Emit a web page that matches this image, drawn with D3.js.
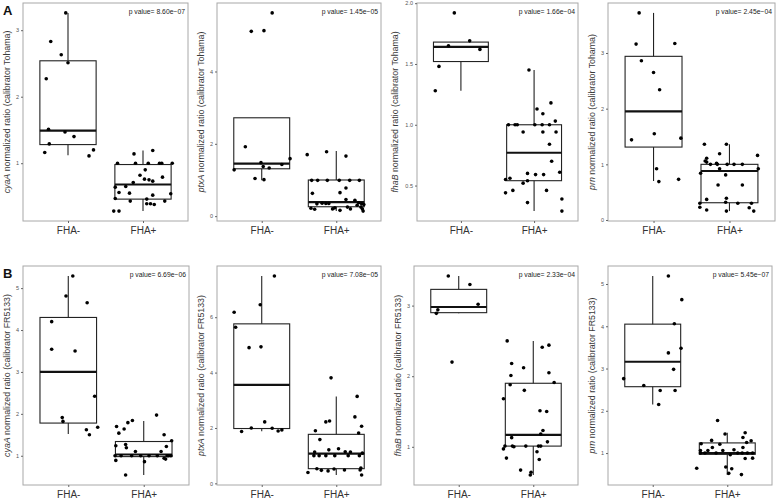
<!DOCTYPE html>
<html>
<head>
<meta charset="utf-8">
<script src="https://cdn.jsdelivr.net/npm/d3@7"></script>
<style>
  body { margin: 0; background: #fff; }
  svg { font-family: "Liberation Sans", Arial, sans-serif; }
</style>
</head>
<body>
<svg id="chart" width="778" height="501"></svg>
<script>
// groups on the x axis
var groups = ["FHA-", "FHA+"];
var genes = ["cyaA", "ptxA", "fhaB", "prn"];
var calibrators = ["Tohama", "FR5133"];
var rowLabels = ["A", "B"];

// p values, row A (Tohama) and row B (FR5133)
var pTohama = ["8.60e\u221207", "1.45e\u221205", "1.66e\u221204", "2.45e\u221204"];
var pFR5133 = ["6.69e\u221206", "7.08e\u221205", "2.33e\u221204", "5.45e\u221207"];

// y tick values per panel
var ticksTohama = [[1, 2, 3], [0, 2, 4], [0.5, 1.0, 1.5, 2.0], [0, 1, 2, 3]];
var ticksFR5133 = [[1, 2, 3, 4, 5], [0, 2, 4, 6], [1, 2, 3], [1, 2, 3, 4, 5]];

// points: [value, jitter offset in category units]
// box stats: [whisker low, q1, median, q3, whisker high]
var cyaA_Tohama_neg = [[3.26,-0.03],[2.83,-0.23],[2.63,-0.09],[2.51,0.0],[2.27,-0.29],[1.51,-0.26],[1.47,-0.04],[1.40,0.08],[1.29,-0.25],[1.16,-0.31],[1.11,0.28],[1.20,0.34]];
var cyaA_Tohama_pos = [[1.0,-0.34],[1.0,-0.10],[1.0,0.07],[1.0,0.22],[1.0,0.25],[1.0,0.39],[1.14,-0.12],[1.19,0.13],[0.90,0.03],[0.82,-0.04],[0.76,0.02],[0.75,0.08],[0.73,0.13],[0.79,0.26],[0.71,-0.13],[0.64,-0.37],[0.65,-0.23],[0.56,-0.32],[0.55,-0.18],[0.52,0.13],[0.54,0.37],[0.47,-0.37],[0.43,-0.17],[0.46,0.05],[0.39,0.05],[0.39,0.10],[0.38,0.15],[0.43,0.29],[0.28,-0.39],[0.28,-0.32]];
var cyaA_Tohama_box = [[1.12,1.28,1.49,2.54,3.26],[0.28,0.46,0.68,0.98,1.19]];

var ptxA_Tohama_neg = [[5.62,0.14],[5.11,-0.14],[5.13,0.03],[1.92,-0.22],[1.48,-0.01],[1.37,0.02],[1.33,0.10],[1.43,0.27],[1.59,0.38],[1.28,-0.37],[1.04,-0.09],[1.01,0.03]];
var ptxA_Tohama_pos = [[1.70,-0.39],[1.78,-0.13],[1.66,0.13],[0.99,-0.33],[0.99,-0.25],[0.99,-0.12],[0.99,0.04],[0.99,0.18],[0.99,0.31],[0.65,0.05],[0.78,0.13],[0.63,-0.32],[0.46,0.13],[0.34,-0.26],[0.36,-0.19],[0.35,-0.14],[0.35,-0.10],[0.44,0.25],[0.37,0.30],[0.34,0.34],[0.32,0.37],[0.22,-0.34],[0.19,-0.29],[0.20,-0.05],[0.23,-0.02],[0.25,0.15],[0.20,0.19],[0.30,0.28],[0.25,0.33],[0.20,0.35],[0.16,0.05],[0.14,0.36]];
var ptxA_Tohama_box = [[0.99,1.31,1.45,2.72,2.72],[0.14,0.26,0.39,1.0,1.80]];

var fhaB_Tohama_neg = [[1.92,-0.09],[1.65,-0.17],[1.69,0.12],[1.62,0.26],[1.48,-0.30],[1.28,-0.35]];
var fhaB_Tohama_pos = [[1.45,-0.07],[1.13,0.04],[1.18,0.23],[1.09,0.12],[1.03,0.29],[1.0,-0.35],[1.0,-0.26],[1.0,-0.23],[1.0,0.01],[1.0,0.11],[1.0,0.21],[0.94,-0.15],[0.94,0.12],[0.94,0.30],[0.84,0.21],[0.70,0.24],[0.60,-0.09],[0.59,0.02],[0.59,0.13],[0.61,0.35],[0.55,-0.39],[0.56,-0.33],[0.52,-0.15],[0.54,-0.09],[0.44,-0.39],[0.46,-0.29],[0.46,0.17],[0.36,-0.09],[0.39,0.38],[0.29,0.38]];
var fhaB_Tohama_box = [[1.28,1.52,1.64,1.68,1.68],[0.29,0.54,0.77,1.0,1.45]];

var prn_Tohama_neg = [[3.72,-0.19],[3.16,-0.23],[3.17,0.28],[2.86,-0.16],[2.65,0.0],[2.34,0.08],[1.44,-0.29],[1.55,0.01],[1.47,0.36],[0.92,0.04],[0.69,0.07],[0.73,0.33]];
var prn_Tohama_pos = [[1.36,-0.33],[1.36,-0.04],[1.19,-0.13],[1.16,0.37],[1.11,-0.30],[1.06,-0.32],[1.04,-0.30],[1.0,-0.25],[1.02,-0.17],[1.0,-0.16],[1.0,-0.03],[1.0,0.06],[1.0,0.17],[0.92,-0.13],[0.92,0.38],[0.84,-0.38],[0.81,-0.05],[0.63,-0.15],[0.63,0.17],[0.37,-0.30],[0.39,-0.04],[0.30,-0.39],[0.32,-0.05],[0.30,0.11],[0.30,0.29],[0.23,-0.39],[0.22,0.26],[0.18,-0.30],[0.16,-0.04],[0.16,0.32]];
var prn_Tohama_box = [[0.70,1.31,1.95,2.94,3.72],[0.16,0.31,0.88,1.0,1.36]];

var cyaA_FR5133_neg = [[5.29,0.06],[4.81,-0.03],[4.65,0.25],[4.20,-0.22],[3.54,-0.22],[3.50,0.09],[2.42,0.35],[1.91,-0.08],[1.82,-0.07],[1.62,0.24],[1.50,0.28],[1.68,0.39]];
var cyaA_FR5133_pos = [[1.97,0.17],[1.84,-0.15],[1.79,-0.21],[1.70,-0.36],[1.64,-0.26],[1.54,-0.33],[1.50,0.27],[1.36,0.37],[1.22,0.30],[1.24,-0.37],[1.27,-0.24],[1.19,-0.23],[1.10,-0.11],[1.10,0.23],[1.0,-0.38],[1.0,-0.30],[1.0,-0.16],[1.0,-0.04],[1.0,0.07],[1.0,0.18],[1.0,0.31],[1.0,0.33],[1.0,0.36],[0.89,-0.37],[0.86,0.01],[0.94,0.27],[0.92,0.29],[0.54,-0.24]];
var cyaA_FR5133_box = [[1.52,1.78,3.0,4.30,5.29],[0.54,0.98,1.03,1.34,1.83]];

var ptxA_FR5133_neg = [[7.49,0.17],[6.45,-0.02],[6.18,-0.37],[5.64,-0.35],[4.90,-0.17],[4.93,-0.01],[2.22,0.04],[2.0,-0.14],[1.99,0.14],[1.87,-0.27],[1.89,0.22],[1.93,0.27]];
var ptxA_FR5133_pos = [[3.81,-0.07],[3.14,0.28],[2.40,0.25],[2.22,-0.14],[2.25,-0.09],[2.06,0.34],[1.90,-0.28],[1.82,0.30],[1.58,-0.22],[1.21,-0.10],[1.25,0.03],[1.13,-0.29],[1.14,0.12],[1.13,0.19],[1.0,-0.30],[1.0,-0.23],[1.0,-0.14],[1.0,-0.02],[1.0,0.16],[1.0,0.31],[1.09,0.35],[0.53,-0.26],[0.47,-0.20],[0.45,-0.11],[0.52,-0.03],[0.48,0.11],[0.48,0.32],[0.55,0.33],[0.39,-0.38],[0.30,0.34]];
var ptxA_FR5133_box = [[1.88,1.98,3.56,5.76,7.49],[0.30,0.53,1.07,1.77,3.14]];

var fhaB_FR5133_neg = [[3.42,-0.14],[3.30,0.15],[3.02,0.26],[2.94,-0.28],[2.89,-0.30],[2.20,-0.09]];
var fhaB_FR5133_pos = [[2.50,-0.35],[2.41,0.12],[2.44,0.21],[2.18,-0.29],[2.01,-0.30],[2.12,-0.13],[2.05,0.21],[1.91,0.28],[1.88,-0.31],[1.80,-0.12],[1.68,-0.40],[1.51,0.09],[1.50,0.18],[1.23,0.13],[1.18,0.10],[1.13,-0.29],[1.07,0.19],[1.01,-0.38],[1.01,-0.28],[1.0,-0.26],[1.01,-0.10],[1.01,0.07],[1.01,0.10],[0.97,-0.40],[0.84,-0.36],[0.93,0.05],[0.82,0.08],[0.67,-0.17],[0.64,-0.03],[0.60,-0.04]];
var fhaB_FR5133_box = [[2.89,2.90,2.98,3.23,3.42],[0.60,1.01,1.17,1.90,2.50]];

var prn_FR5133_neg = [[5.19,0.21],[4.63,0.39],[4.06,0.29],[3.37,0.21],[3.48,0.38],[2.98,0.28],[2.76,-0.39],[2.60,-0.12],[2.48,0.10],[2.48,0.30],[2.15,0.08]];
var prn_FR5133_pos = [[1.77,-0.13],[1.45,-0.03],[1.48,0.24],[1.37,0.21],[1.29,0.32],[1.30,-0.21],[1.22,-0.35],[1.21,-0.10],[1.25,0.26],[1.13,-0.20],[1.13,0.21],[1.06,-0.36],[1.06,-0.26],[1.06,-0.06],[1.08,0.09],[1.0,-0.36],[1.0,-0.30],[1.0,-0.15],[0.96,0.04],[1.0,0.14],[1.0,0.20],[1.0,0.27],[1.0,0.34],[0.87,0.24],[0.88,0.34],[0.64,-0.41],[0.67,-0.02],[0.63,0.06],[0.52,0.02],[0.49,0.19]];
var prn_FR5133_box = [[2.15,2.57,3.16,4.05,5.19],[0.48,0.97,1.0,1.24,1.48]];

var panelData = {
  cyaA_Tohama: [cyaA_Tohama_neg, cyaA_Tohama_pos, cyaA_Tohama_box],
  ptxA_Tohama: [ptxA_Tohama_neg, ptxA_Tohama_pos, ptxA_Tohama_box],
  fhaB_Tohama: [fhaB_Tohama_neg, fhaB_Tohama_pos, fhaB_Tohama_box],
  prn_Tohama: [prn_Tohama_neg, prn_Tohama_pos, prn_Tohama_box],
  cyaA_FR5133: [cyaA_FR5133_neg, cyaA_FR5133_pos, cyaA_FR5133_box],
  ptxA_FR5133: [ptxA_FR5133_neg, ptxA_FR5133_pos, ptxA_FR5133_box],
  fhaB_FR5133: [fhaB_FR5133_neg, fhaB_FR5133_pos, fhaB_FR5133_box],
  prn_FR5133: [prn_FR5133_neg, prn_FR5133_pos, prn_FR5133_box]
};

// panel frames (layout)
var colX = [[[23, 188], [217, 381], [417, 578], [608, 775]],
            [[23, 189], [217, 381], [414, 578], [608, 772]]];
var rowY = [[3, 221], [266, 485]];

var svg = d3.select("#chart");

calibrators.forEach(function(cal, r) {
  var pvals = r == 0 ? pTohama : pFR5133;
  var ticks = r == 0 ? ticksTohama : ticksFR5133;

  svg.append("text")
    .attr("x", 3).attr("y", rowY[r][0] + 12)
    .attr("font-size", 13).attr("font-weight", "bold")
    .attr("fill", "#111")
    .text(rowLabels[r]);

  genes.forEach(function(gene, c) {
    var d = panelData[gene + "_" + cal];
    var x0 = colX[r][c][0], x1 = colX[r][c][1];
    var y0 = rowY[r][0], y1 = rowY[r][1];

    var all = [];
    d[0].forEach(function(p) { all.push(p[0]); });
    d[1].forEach(function(p) { all.push(p[0]); });
    d[2].forEach(function(b) { all = all.concat(b); });
    var ext = d3.extent(all), pad = (ext[1] - ext[0]) * 0.05;

    var x = d3.scaleLinear().domain([0.4, 2.6]).range([x0, x1]);
    var y = d3.scaleLinear().domain([ext[0] - pad, ext[1] + pad]).range([y1, y0]);

    var g = svg.append("g");

    g.append("rect")
      .attr("x", x0).attr("y", y0)
      .attr("width", x1 - x0).attr("height", y1 - y0)
      .attr("fill", "#fff").attr("stroke", "#a8a8a8").attr("stroke-width", 1);

    // boxes
    d[2].forEach(function(b, i) {
      var cx = x(i + 1), hw = x(1.375) - x(1);
      g.append("line").attr("x1", cx).attr("x2", cx)
        .attr("y1", y(b[3])).attr("y2", y(b[4]))
        .attr("stroke", "#222").attr("stroke-width", 1.1);
      g.append("line").attr("x1", cx).attr("x2", cx)
        .attr("y1", y(b[1])).attr("y2", y(b[0]))
        .attr("stroke", "#222").attr("stroke-width", 1.1);
      g.append("rect")
        .attr("x", cx - hw).attr("y", y(b[3]))
        .attr("width", hw * 2).attr("height", y(b[1]) - y(b[3]))
        .attr("fill", "none").attr("stroke", "#222").attr("stroke-width", 1.1);
      g.append("line").attr("x1", cx - hw).attr("x2", cx + hw)
        .attr("y1", y(b[2])).attr("y2", y(b[2]))
        .attr("stroke", "#111").attr("stroke-width", 2.2);
    });

    // jittered points
    [d[0], d[1]].forEach(function(pts, i) {
      g.selectAll(null)
        .data(pts)
        .enter().append("circle")
          .attr("cx", function(p) { return x(i + 1 + p[1]); })
          .attr("cy", function(p) { return y(p[0]); })
          .attr("r", 1.8)
          .attr("fill", "#000");
    });

    // axes
    var fmt = ticks[c].some(function(t) { return t % 1 != 0; }) ? d3.format(".1f") : d3.format("d");
    var ya = g.append("g")
      .attr("transform", "translate(" + x0 + ",0)")
      .call(d3.axisLeft(y).tickValues(ticks[c]).tickFormat(fmt).tickSize(2).tickPadding(2));
    ya.select(".domain").remove();
    ya.selectAll("line").attr("stroke", "#666");
    ya.selectAll("text").attr("font-size", 5.5).attr("fill", "#555")
      .attr("font-family", "Liberation Sans, Arial, sans-serif");

    var xa = g.append("g")
      .attr("transform", "translate(0," + y1 + ")")
      .call(d3.axisBottom(x).tickValues([1, 2])
        .tickFormat(function(v) { return groups[v - 1]; }).tickSize(2).tickPadding(4));
    xa.select(".domain").remove();
    xa.selectAll("line").attr("stroke", "#666");
    xa.selectAll("text").attr("font-size", 10).attr("fill", "#333")
      .attr("font-family", "Liberation Sans, Arial, sans-serif");

    // y title
    var labChars = d3.max(ticks[c], function(t) { return fmt(t).length; });
    var tx = x0 - 10 - labChars * 3, ty = (y0 + y1) / 2;
    var title = g.append("text")
      .attr("transform", "translate(" + tx + "," + ty + ") rotate(-90)")
      .attr("text-anchor", "middle")
      .attr("font-size", 8.8).attr("fill", "#3a3a3a");
    title.append("tspan").attr("font-style", "italic").text(gene);
    title.append("tspan").text(" normalized ratio (calibrator " + cal + ")");

    // p value
    g.append("text")
      .attr("x", x1 - 3).attr("y", y0 + 11)
      .attr("text-anchor", "end")
      .attr("font-size", 6.8).attr("fill", "#222")
      .text("p value= " + pvals[c]);
  });
});
</script>
</body>
</html>
